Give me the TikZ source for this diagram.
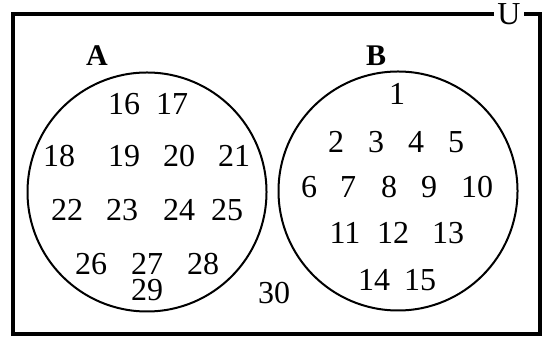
\documentclass[tikz,border=0pt]{standalone}
\usepackage{fontspec}
\setmainfont{Liberation Serif}
\begin{document}
\begin{tikzpicture}[x=0.5pt,y=-0.5pt,
  elem/.style={inner sep=0pt,font=\fontsize{16}{19}\selectfont},
  setname/.style={inner sep=0pt,font=\fontsize{15}{18}\selectfont\bfseries},
  setline/.style={line width=1pt}]

\useasboundingbox (0,0) rectangle (544,340);

% Universum
\node[elem,inner xsep=1.5pt] (U) at (509,14) {U};
\draw[line width=1.7pt] (U.west) -- (13,14) -- (13,334) -- (540,334)
  -- (540,14) -- (U.east);

% Mengen
\draw[setline] (147,192) circle (119.5);
\draw[setline] (398,191) circle (119.5);
\node[setname] (A) at (97,56) {A};
\node[setname] (B) at (376,56) {B};

% Elemente von A
\foreach \n/\px/\py in {16/124/104,17/172/104,
    18/59/156,19/124/156,20/179/156,21/234/156,
    22/67/210,23/122/210,24/179/210,25/227/210,
    26/91/264,27/147/264,28/203/264,29/147/290}
  \node[elem] (a\n) at (\px,\py) {\n};

% Elemente von B
\foreach \n/\px/\py in {1/397/94,
    2/336/142,3/376/142,4/416/142,5/456/142,
    6/309/187,7/348/187,8/389/187,9/429/187,10/477/187,
    11/345/233,12/393/233,13/448/233,
    14/374/280,15/420/280}
  \node[elem] (b\n) at (\px,\py) {\n};

% ausserhalb
\node[elem] (o30) at (274,293) {30};

\end{tikzpicture}
\end{document}
